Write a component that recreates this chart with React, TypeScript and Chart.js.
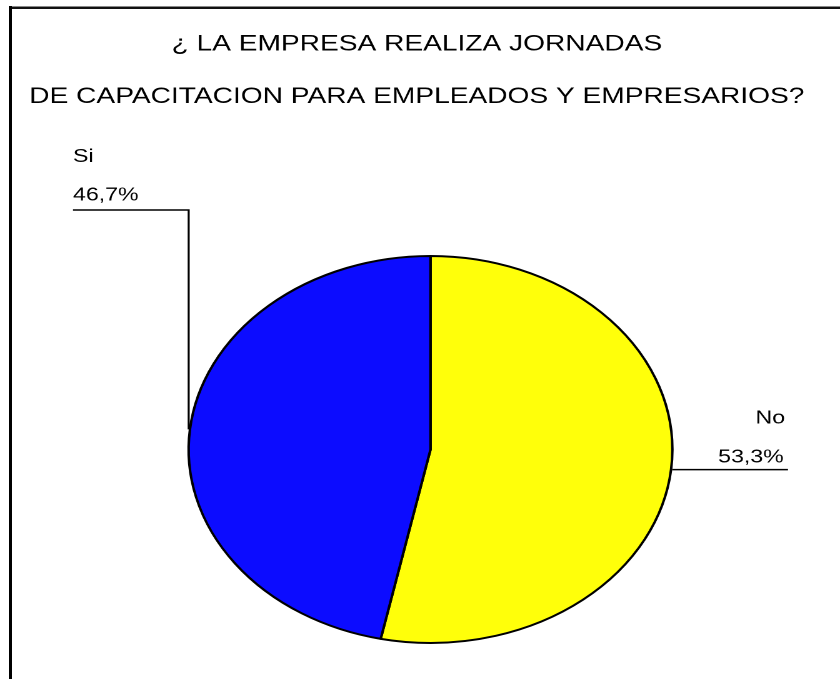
import React, { useEffect, useRef } from 'react';
import { Chart, registerables } from 'chart.js';

Chart.register(...registerables);

const titleLines = ['¿ LA EMPRESA REALIZA JORNADAS', 'DE CAPACITACION PARA EMPLEADOS Y EMPRESARIOS?'];
const categories = ['No', 'Si'];
const percentages = [53.3, 46.7];
const sliceColors = ['#FFFF0A', '#0C0CFF'];

const STRETCH = 1.25;
const W = 672;
const H = 679;
const FONT = "'Liberation Sans', Arial, sans-serif";

const fmt = (v: number) => v.toFixed(1).replace('.', ',') + '%';

const titlePlugin = {
  id: 'twoLineTitle',
  afterDraw(chart: any) {
    const ctx = chart.ctx;
    ctx.save();
    ctx.fillStyle = '#000';
    ctx.font = `22.5px ${FONT}`;
    ctx.textAlign = 'center';
    ctx.textBaseline = 'middle';
    ctx.fillText(titleLines[0], 333.5, 44.5);
    ctx.fillText(titleLines[1], 333.5, 97);
    ctx.restore();
  },
};

const labelPlugin = {
  id: 'leaderLabels',
  afterDatasetsDraw(chart: any) {
    const ctx = chart.ctx;
    const meta = chart.getDatasetMeta(0);
    const values: number[] = chart.data.datasets[0].data;
    const total = values.reduce((a, b) => a + b, 0);
    ctx.save();
    ctx.fillStyle = '#000';
    ctx.strokeStyle = '#000';
    ctx.lineWidth = 1.6;
    ctx.font = `18.5px ${FONT}`;
    ctx.textBaseline = 'middle';
    meta.data.forEach((arc: any, i: number) => {
      const { x, y, startAngle, endAngle, outerRadius } = arc.getProps(
        ['x', 'y', 'startAngle', 'endAngle', 'outerRadius'],
        true
      );
      const mid = (startAngle + endAngle) / 2;
      const r = outerRadius + 1;
      const ax = x + Math.cos(mid) * r;
      const ay = y + Math.sin(mid) * r;
      const label = chart.data.labels[i];
      const pct = fmt((values[i] / total) * 100);
      ctx.beginPath();
      if (Math.cos(mid) < 0) {
        ctx.moveTo(ax, ay);
        ctx.lineTo(ax, 210);
        ctx.lineTo(58.4, 210);
        ctx.stroke();
        ctx.textAlign = 'left';
        ctx.fillText(label, 58.4, 157);
        ctx.fillText(pct, 58.4, 195.3);
      } else {
        ctx.moveTo(ax, ay);
        ctx.lineTo(630.4, ay);
        ctx.stroke();
        ctx.textAlign = 'right';
        ctx.fillText(label, 628, 418.5);
        ctx.fillText(pct, 627, 457.5);
      }
    });
    ctx.restore();
  },
};

function PieChart() {
  const ref = useRef<HTMLCanvasElement | null>(null);
  useEffect(() => {
    if (!ref.current) return;
    const chart = new Chart(ref.current, {
      type: 'pie',
      data: {
        labels: categories,
        datasets: [
          {
            data: percentages,
            backgroundColor: sliceColors,
            borderColor: '#000',
            borderWidth: 2,
          },
        ],
      },
      options: {
        animation: false,
        responsive: false,
        devicePixelRatio: 2,
        layout: { padding: { left: 149.9, right: 133.1, top: 255, bottom: 35 } },
        plugins: {
          legend: { display: false },
          title: { display: false },
          tooltip: { enabled: false },
        },
      },
      plugins: [labelPlugin, titlePlugin],
    });
    return () => chart.destroy();
  }, []);
  return <canvas ref={ref} width={W} height={H} />;
}

export default function App() {
  return (
    <div
      style={{
        position: 'absolute',
        left: 0,
        top: 0,
        width: 840,
        height: 679,
        overflow: 'hidden',
        background: '#fff',
      }}
    >
      <div
        style={{
          position: 'absolute',
          left: 0,
          top: 0,
          width: W,
          height: H,
          transform: `scaleX(${STRETCH})`,
          transformOrigin: '0 0',
        }}
      >
        <PieChart />
      </div>
      <div style={{ position: 'absolute', left: 9, top: 6, width: 831, height: 1, background: '#888' }} />
      <div style={{ position: 'absolute', left: 9, top: 7, width: 831, height: 1.5, background: '#111' }} />
      <div style={{ position: 'absolute', left: 9, top: 6, width: 3, height: 673, background: '#000' }} />
    </div>
  );
}
